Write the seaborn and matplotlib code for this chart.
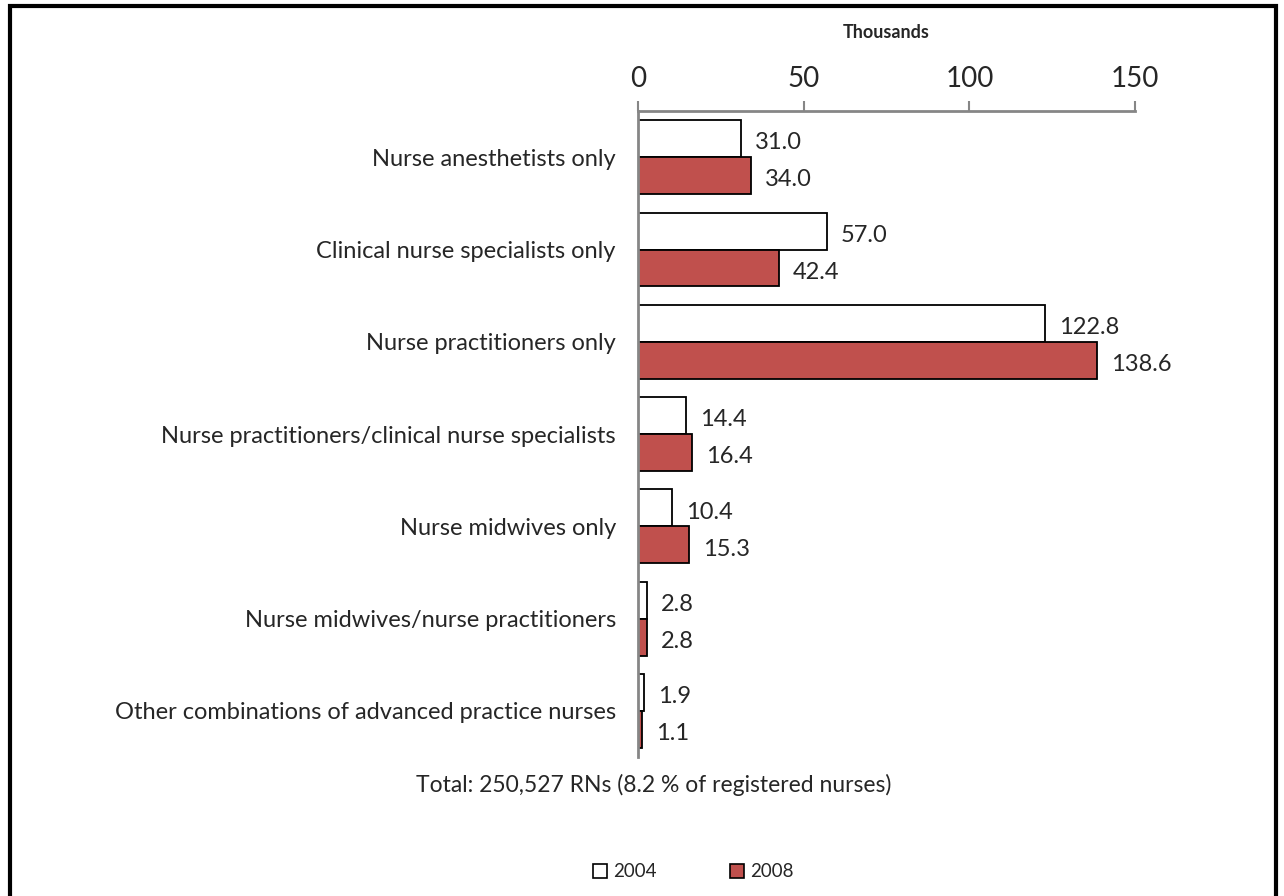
import matplotlib
matplotlib.use("Agg")
import matplotlib.pyplot as plt
import matplotlib.patches as mpatches
import seaborn as sns
import pandas as pd

categories = [
    "Nurse anesthetists only",
    "Clinical nurse specialists only",
    "Nurse practitioners only",
    "Nurse practitioners/clinical nurse specialists",
    "Nurse midwives only",
    "Nurse midwives/nurse practitioners",
    "Other combinations of advanced practice nurses",
]
years = ["2004", "2008"]
values_2004 = [31.0, 57.0, 122.8, 14.4, 10.4, 2.8, 1.9]
values_2008 = [34.0, 42.4, 138.6, 16.4, 15.3, 2.8, 1.1]
x_ticks = [0, 50, 100, 150]

df = pd.DataFrame({
    "category": categories * 2,
    "year": [years[0]] * len(categories) + [years[1]] * len(categories),
    "value": values_2004 + values_2008,
})

sns.set_theme(style="white")
plt.rcParams["font.family"] = ["Lato", "DejaVu Sans"]

AXIS_GREY = "#868686"
palette = {"2004": "#FFFFFF", "2008": "#C0504D"}

fig = plt.figure(figsize=(12.84, 8.96), dpi=100)
ax = fig.add_axes([0.4969, 0.155, 0.3871, 0.721])

sns.barplot(data=df, y="category", x="value", hue="year", orient="h",
            palette=palette, order=categories, hue_order=years, saturation=1,
            width=0.8, edgecolor="black", linewidth=1.3, ax=ax, legend=False)

# value labels just past the end of each bar
for container in ax.containers:
    for bar in container:
        w = bar.get_width()
        yc = bar.get_y() + bar.get_height() / 2
        ax.annotate(f"{w:.1f}", xy=(w, yc), xytext=(10, -3),
                    textcoords="offset points", ha="left", va="center",
                    fontsize=17)

ax.set_xlim(0, 150)
ax.set_ylim(len(categories) - 0.5, -0.5)
ax.set_xticks(x_ticks)
ax.xaxis.tick_top()
ax.xaxis.set_label_position("top")
ax.set_xlabel("Thousands", fontsize=13, fontweight="bold", labelpad=20)
ax.set_ylabel("")
ax.tick_params(axis="x", which="both", direction="out", length=7, width=1.5,
               color=AXIS_GREY, labelsize=20, pad=7, top=True, bottom=False)
ax.tick_params(axis="y", length=0, labelsize=17, pad=16)

for side in ["right", "bottom"]:
    ax.spines[side].set_visible(False)
for side in ["top", "left"]:
    ax.spines[side].set_color(AXIS_GREY)
    ax.spines[side].set_linewidth(2)

fig.text(0.509, 0.124, "Total: 250,527 RNs (8.2 % of registered nurses)",
         ha="center", va="center", fontsize=16.5)

handles = [mpatches.Patch(facecolor=palette[y], edgecolor="black", linewidth=1.2, label=y)
           for y in years]
fig.legend(handles=handles, loc="center", bbox_to_anchor=(0.540, 0.027), ncol=2,
           frameon=False, fontsize=13.5, handlelength=0.75, handleheight=0.75,
           handletextpad=0.35, columnspacing=3.9)

# figure border
border = mpatches.Rectangle((0.0078, -0.05), 0.986, 1.043, transform=fig.transFigure,
                            fill=False, edgecolor="black", linewidth=3, clip_on=False)
fig.patches.append(border)

fig.savefig("out.png", dpi=100)
